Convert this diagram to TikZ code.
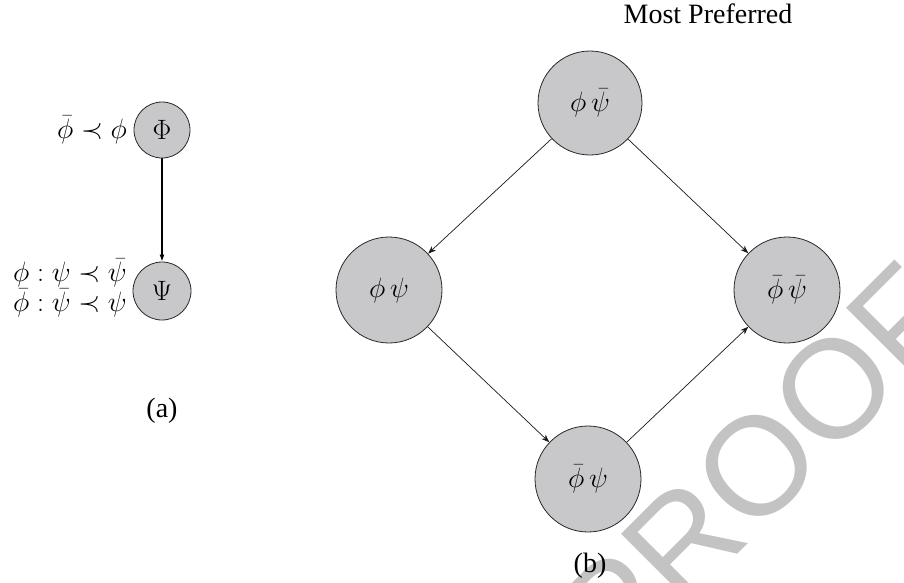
\RequirePackage{fix-cm}
\documentclass[tikz,border=0pt]{standalone}
\usepackage{fontspec}
\setmainfont{Liberation Serif}
\newfontfamily\wmfont{Liberation Sans}
\usetikzlibrary{arrows.meta}
\definecolor{nodefill}{RGB}{200,200,202}
\definecolor{nodeline}{RGB}{40,40,40}
\definecolor{wmgray}{RGB}{195,195,195}
\tikzset{
  state/.style={circle, draw=nodeline, line width=0.8pt, fill=nodefill, inner sep=0pt},
  bigedge/.style={-{Stealth[length=8pt,width=6pt]}, line width=0.7pt, draw=black!90},
  smalledge/.style={-{Latex[length=7pt,width=5pt]}, line width=1.4pt},
  lbl/.style={font=\fontsize{28}{31}\selectfont, inner sep=0pt},
  mlbl/.style={font=\fontsize{28}{30}\selectfont, inner sep=0pt},
}
\begin{document}
\begin{tikzpicture}[x=1pt,y=-1pt]
\useasboundingbox (0,0) rectangle (904,582);
\begin{scope}
\clip (0,0) rectangle (904,582);
\node[rotate=45, text=wmgray, font=\wmfont\fontsize{140}{140}\selectfont, inner sep=0pt] (wm) at (757,466) {PROOF};
\end{scope}
% (a)
\node[state, minimum size=56pt, mlbl] (Phi) at (162,130) {$\Phi$};
\node[state, minimum size=58pt, mlbl] (Psi) at (162,291) {$\Psi$};
\draw[smalledge] (Phi) -- (Psi);
\node[mlbl, anchor=east] (lphi) at (127,130) {$\bar\phi \prec \phi$};
\node[mlbl, anchor=east, align=right] (lpsi) at (127,288) {$\phi : \psi \prec \bar\psi$\\$\bar\phi : \bar\psi \prec \psi$};
\node[lbl] (capa) at (162,411) {(a)};
% (b)
\node[state, minimum size=104pt, mlbl] (top) at (590,103) {$\phi\,\bar\psi$};
\node[state, minimum size=106pt, mlbl] (left) at (389,290) {$\phi\,\psi$};
\node[state, minimum size=106pt, mlbl] (right) at (787,290) {$\bar\phi\,\bar\psi$};
\node[state, minimum size=106pt, mlbl] (bottom) at (588,479) {$\bar\phi\,\psi$};
\draw[bigedge] (top) -- (left);
\draw[bigedge] (top) -- (right);
\draw[bigedge] (left) -- (bottom);
\draw[bigedge] (bottom) -- (right);
\node[lbl] (capb) at (590,566) {(b)};
\node[lbl, anchor=base] (pref) at (708,23) {Most Preferred};
\end{tikzpicture}
\end{document}
